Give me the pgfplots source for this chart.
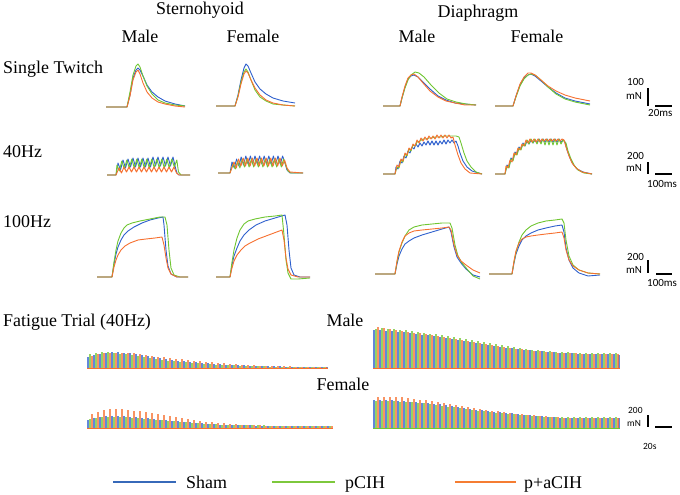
\documentclass[border=0pt]{standalone}
\usepackage{pgfplots}
\pgfplotsset{compat=1.18}
\usepackage{fontspec}
\setmainfont{Liberation Serif}
\newfontfamily\calfont{Carlito}
\definecolor{sham}{RGB}{45,95,205}
\definecolor{pcih}{RGB}{112,198,50}
\definecolor{paci}{RGB}{246,112,48}
\definecolor{lsham}{RGB}{55,105,185}
\definecolor{lpcih}{RGB}{125,200,60}
\definecolor{lpaci}{RGB}{245,125,50}
\begin{document}
\begin{tikzpicture}
\useasboundingbox (0,0) rectangle (680bp,495bp);
\begin{axis}[at={(0bp,0bp)},anchor=south west,width=680bp,height=495bp,scale only axis,
  xmin=0,xmax=680,ymin=0,ymax=495,y dir=reverse,hide axis,clip=false,
  every axis plot/.append style={line width=0.9bp,line join=round}]
% ---------- headings ----------
\node[font=\fontsize{18}{20}\selectfont,anchor=base] at (axis cs:200,15) {Sternohyoid};
\node[font=\fontsize{18}{20}\selectfont,anchor=base] at (axis cs:478,18) {Diaphragm};
\node[font=\fontsize{18}{20}\selectfont,anchor=base] at (axis cs:140,43) {Male};
\node[font=\fontsize{18}{20}\selectfont,anchor=base] at (axis cs:253,43) {Female};
\node[font=\fontsize{18}{20}\selectfont,anchor=base] at (axis cs:417,43) {Male};
\node[font=\fontsize{18}{20}\selectfont,anchor=base] at (axis cs:537,43) {Female};
\node[font=\fontsize{18}{20}\selectfont,anchor=base west,inner sep=0] at (axis cs:3,73) {Single Twitch};
\node[font=\fontsize{18}{20}\selectfont,anchor=base west,inner sep=0] at (axis cs:3,157) {40Hz};
\node[font=\fontsize{18}{20}\selectfont,anchor=base west,inner sep=0] at (axis cs:3,227) {100Hz};
\node[font=\fontsize{18}{20}\selectfont,anchor=base west,inner sep=0] at (axis cs:3,326) {Fatigue Trial (40Hz)};
\node[font=\fontsize{18}{20}\selectfont,anchor=base] at (axis cs:345,326) {Male};
\node[font=\fontsize{18}{20}\selectfont,anchor=base] at (axis cs:343,390) {Female};
% ---------- single twitch : sternohyoid ----------
\addplot[sham] coordinates {(106,107)(127,107)(130,95)(133,78)(136,70)(138,68)(140,70)(143,76)(147,85)(152,92)(158,97)(165,101)(175,104)(185,106)};
\addplot[pcih] coordinates {(106,107)(127,107)(130,92)(133,75)(136,66)(138,64)(140,67)(143,76)(147,86)(152,94)(158,100)(165,103)(175,105)(185,106)};
\addplot[paci] coordinates {(106,107)(127,107)(130,96)(133,80)(136,72)(138,70)(140,74)(143,83)(147,92)(152,98)(158,102)(165,104)(175,106)(185,107)};
\addplot[sham] coordinates {(216,106)(235,106)(238,95)(241,80)(244,68)(246,64)(248,66)(251,73)(255,82)(260,89)(266,94)(273,98)(283,101)(295,103)};
\addplot[pcih] coordinates {(216,106)(235,106)(238,96)(241,82)(244,72)(246,69)(248,72)(251,80)(255,90)(260,97)(266,101)(273,104)(283,105)(295,106)};
\addplot[paci] coordinates {(216,106)(235,106)(238,97)(241,84)(244,74)(246,71)(248,73)(251,80)(255,88)(260,95)(266,100)(273,103)(283,105)(295,106)};
% ---------- single twitch : diaphragm ----------
\addplot[sham] coordinates {(383,106)(400,106)(402,98)(405,87)(408,79)(411,76)(414,75)(418,77)(423,82)(430,89)(438,96)(446,100)(455,103)(465,104)(476,105)};
\addplot[pcih] coordinates {(383,106)(400,106)(402,98)(405,88)(408,80)(411,75)(415,72)(419,73)(424,77)(431,85)(439,93)(447,99)(456,102)(466,104)(476,105)};
\addplot[paci] coordinates {(383,106)(400,106)(402,97)(405,86)(408,78)(411,75)(414,74)(418,77)(423,83)(430,91)(438,97)(446,101)(455,103)(465,105)(476,105)};
\addplot[sham] coordinates {(495,106)(513,106)(516,96)(520,85)(524,78)(528,75)(531,74)(535,76)(541,81)(548,87)(556,93)(565,98)(575,101)(590,104)};
\addplot[pcih] coordinates {(495,106)(513,106)(516,97)(520,86)(524,79)(528,75)(531,74)(535,75)(541,80)(548,87)(556,94)(565,99)(575,102)(590,105)};
\addplot[paci] coordinates {(495,106)(513,106)(516,96)(520,84)(524,77)(528,73)(531,73)(535,75)(541,80)(548,86)(556,91)(565,95)(575,98)(590,101)};
% ---------- 40 Hz : sternohyoid ----------
\addplot[sham] coordinates {(107,175)(116,175)(118,163)(120.5,170)(123,160)(125.5,168)(128,159)(130.5,167)(133,158)(135.5,167)(138,158)(140.5,167)(143,158)(145.5,167)(148,158)(150.5,167)(153,157)(155.5,166)(158,157)(160.5,166)(163,157)(165.5,166)(168,157)(170.5,166)(173,157)(175.5,168)(177,173)(179,175)(190,175)};
\addplot[pcih] coordinates {(107,175)(116,175)(117,165)(119.3,171)(121.8,161)(124.3,169)(126.8,160)(129.3,168)(131.8,159)(134.3,168)(136.8,159)(139.3,168)(141.8,159)(144.3,168)(146.8,159)(149.3,168)(151.8,159)(154.3,168)(156.8,159)(159.3,168)(161.8,159)(164.3,168)(166.8,159)(169.3,168)(171.8,159)(174.3,167)(176.8,160)(178.5,172)(181,175)(190,175)};
\addplot[paci] coordinates {(107,175)(116,175)(119,168)(121.5,173)(124,167)(126.5,172)(129,167)(131.5,172)(134,167)(136.5,172)(139,167)(141.5,172)(144,167)(146.5,172)(149,167)(151.5,172)(154,167)(156.5,172)(159,167)(161.5,172)(164,167)(166.5,172)(169,167)(171.5,172)(174,167)(176.5,173)(179,175)(190,175)};
\addplot[sham] coordinates {(218,173)(230,173)(232,162)(234.3,168)(236.6,159)(238.9,166)(241.2,157)(243.5,165)(245.8,156)(248.1,164)(250.4,156)(252.7,164)(255,156)(257.3,164)(259.6,156)(261.9,164)(264.2,156)(266.5,164)(268.8,156)(271.1,164)(273.4,156)(275.7,164)(278,156)(280.3,164)(282.6,156)(285,163)(287,170)(290,173)(303,173)};
\addplot[pcih] coordinates {(218,173)(230,173)(233,164)(235.3,169)(237.6,161)(239.9,168)(242.2,159)(244.5,167)(246.8,159)(249.1,167)(251.4,159)(253.7,167)(256,159)(258.3,167)(260.6,159)(262.9,167)(265.2,159)(267.5,167)(269.8,159)(272.1,167)(274.4,159)(276.7,167)(279,159)(281.3,167)(283.6,159)(286,166)(288,171)(291,173)(303,173)};
\addplot[paci] coordinates {(218,173)(230,173)(234,162)(236.3,168)(238.6,159)(240.9,166)(243.2,158)(245.5,166)(247.8,158)(250.1,166)(252.4,158)(254.7,166)(257,158)(259.3,166)(261.6,158)(263.9,166)(266.2,158)(268.5,166)(270.8,158)(273.1,166)(275.4,158)(277.7,166)(280,158)(282.3,166)(284.6,160)(287,168)(290,172)(303,173)};
% ---------- 40 Hz : diaphragm ----------
\addplot[sham] coordinates {(383,174)(395,174)(396,167)(398,169)(400,161)(402,163)(404,156)(406,158)(408,151)(410,153)(412,147)(414,149)(416,144)(418,147)(420,143)(422,146)(424,142)(426,145)(428,141)(430,145)(432,141)(434,145)(436,141)(438,145)(440,141)(442,144)(444,140)(446,144)(448,140)(450,143)(452,140)(454,143)(456,141)(458,146)(460,153)(463,161)(467,167)(472,171)(482,174)};
\addplot[pcih] coordinates {(383,174)(395,174)(397,167)(399,168)(401,160)(403,162)(405,154)(407,156)(409,149)(411,151)(413,145)(415,146)(417,142)(420,141)(423,139)(426,139)(429,138)(432,138)(435,137)(438,137)(441,137)(444,136)(447,136)(450,136)(453,136)(456,136)(459,137)(461,143)(464,153)(467,161)(471,167)(476,172)(482,174)};
\addplot[paci] coordinates {(383,174)(395,174)(397,165)(399,167)(401,159)(403,161)(405,153)(407,155)(409,148)(411,150)(413,144)(415,146)(417,140)(419,143)(421,138)(423,141)(425,137)(427,140)(429,136)(431,139)(433,136)(435,139)(437,135)(439,138)(441,135)(443,138)(445,135)(447,138)(449,135)(451,138)(453,137)(455,145)(458,155)(461,163)(465,169)(470,173)(482,174)};
\addplot[sham] coordinates {(495,174)(505,174)(507,165)(509,167)(511,158)(513,160)(515,152)(517,154)(519,147)(521,149)(523,143)(525,146)(527,141)(529,144)(531,140)(533,143)(535,140)(537,143)(539,139)(541,142)(543,139)(545,142)(547,139)(549,142)(551,139)(553,142)(555,139)(557,142)(559,139)(561,142)(563,140)(565,142)(567,150)(570,158)(573,164)(577,169)(583,172)(592,174)};
\addplot[pcih] coordinates {(495,174)(505,174)(507,166)(509,168)(511,159)(513,161)(515,153)(517,155)(519,148)(521,150)(523,144)(525,146)(527,140)(529,144)(531,139)(533,143)(535,139)(537,144)(539,139)(541,144)(543,139)(545,145)(547,139)(549,145)(551,139)(553,145)(555,139)(557,145)(559,139)(561,144)(563,140)(566,143)(568,151)(571,159)(574,165)(578,170)(584,173)(592,174)};
\addplot[paci] coordinates {(495,174)(505,174)(506,166)(508,168)(510,160)(512,162)(514,153)(516,155)(518,148)(520,150)(522,144)(524,146)(526,140)(528,143)(530,139)(532,142)(534,139)(536,142)(538,139)(540,142)(542,139)(544,141)(546,139)(548,141)(550,139)(552,141)(554,139)(556,141)(558,139)(560,141)(562,139)(564,140)(566,147)(569,156)(572,163)(576,168)(582,172)(592,174)};
% ---------- 100 Hz : sternohyoid ----------
\addplot[sham] coordinates {(97,277)(112,277)(114,264)(116,254)(118,247)(121,240)(124,235)(128,231)(134,227)(142,223)(150,220)(158,218)(163,217)(164,225)(166,250)(168,266)(171,274)(177,277)(188,277)};
\addplot[pcih] coordinates {(97,277)(112,277)(114,262)(116,250)(118,241)(121,233)(124,228)(127,225)(132,223)(140,221)(150,219)(160,217)(165,217)(167,225)(169,250)(171,268)(174,275)(180,277)(188,277)};
\addplot[paci] coordinates {(97,277)(112,277)(114,267)(116,260)(118,255)(121,250)(125,246)(130,243)(138,240)(146,239)(155,238)(162,237)(164,245)(166,258)(168,268)(171,274)(177,277)(188,277)};
\addplot[sham] coordinates {(216,277)(230,277)(232,265)(234,256)(237,248)(240,241)(244,235)(249,230)(256,225)(265,221)(275,218)(285,215)(287,225)(289,250)(291,268)(294,275)(300,277)(310,277)};
\addplot[pcih] coordinates {(216,277)(230,277)(232,262)(234,250)(237,238)(240,230)(244,224)(248,221)(255,219)(265,217)(275,216)(282,215)(284,235)(286,260)(288,273)(291,279)(298,279)(310,278)};
\addplot[paci] coordinates {(216,277)(230,277)(232,268)(234,261)(237,255)(241,250)(245,246)(250,243)(258,239)(266,236)(274,233)(282,230)(284,240)(286,258)(288,269)(291,275)(298,277)(310,277)};
% ---------- 100 Hz : diaphragm ----------
\addplot[sham] coordinates {(375,274)(395,274)(397,264)(399,256)(402,249)(405,244)(409,241)(414,238)(422,235)(432,232)(442,229)(449,227)(451,232)(454,247)(457,257)(461,263)(466,269)(473,275)(480,277)};
\addplot[pcih] coordinates {(375,274)(395,274)(397,262)(399,252)(402,243)(405,236)(409,230)(414,227)(422,225)(432,224)(442,223)(450,223)(452,228)(455,245)(458,256)(462,263)(467,269)(473,276)(480,279)};
\addplot[paci] coordinates {(375,274)(395,274)(397,261)(399,251)(402,242)(405,236)(409,233)(414,231)(422,230)(432,229)(442,228)(449,227)(451,230)(454,245)(457,255)(461,261)(466,265)(473,270)(480,273)};
\addplot[sham] coordinates {(489,274)(512,274)(514,263)(516,254)(519,246)(522,240)(526,236)(531,233)(538,230)(546,228)(555,226)(562,225)(564,232)(566,248)(569,260)(573,268)(579,273)(588,276)(600,275)};
\addplot[pcih] coordinates {(489,274)(512,274)(514,262)(516,252)(519,242)(522,235)(526,230)(531,226)(538,223)(546,221)(555,220)(562,219)(564,223)(566,240)(569,256)(573,265)(579,270)(588,273)(600,274)};
\addplot[paci] coordinates {(489,274)(512,274)(514,261)(516,251)(519,243)(522,239)(526,237)(531,236)(538,235)(546,234)(555,233)(562,232)(564,238)(566,250)(569,260)(573,266)(579,270)(588,273)(600,274)};
% ---------- scale bars ----------
\begin{scope}[font=\calfont\fontsize{11}{12}\selectfont]
\node[anchor=base west,inner sep=0] at (axis cs:627,85) {100};
\node[anchor=base west,inner sep=0] at (axis cs:626,99) {mN};
\draw[line width=1.1bp] (axis cs:648,88) -- (axis cs:648,106);
\draw[line width=1.1bp] (axis cs:655,106) -- (axis cs:672,106);
\node[anchor=base west,inner sep=0] at (axis cs:648,116) {20ms};
\node[anchor=base west,inner sep=0] at (axis cs:627,159) {200};
\node[anchor=base west,inner sep=0] at (axis cs:626,171) {mN};
\draw[line width=1.1bp] (axis cs:648,162) -- (axis cs:648,174);
\draw[line width=1.1bp] (axis cs:655,174) -- (axis cs:672,174);
\node[anchor=base west,inner sep=0] at (axis cs:647,187) {100ms};
\node[anchor=base west,inner sep=0] at (axis cs:627,260) {200};
\node[anchor=base west,inner sep=0] at (axis cs:626,273) {mN};
\draw[line width=1.1bp] (axis cs:648,260) -- (axis cs:648,273);
\draw[line width=1.1bp] (axis cs:656,274) -- (axis cs:672,274);
\node[anchor=base west,inner sep=0] at (axis cs:647,286) {100ms};
\end{scope}
\begin{scope}[font=\calfont\fontsize{9.5}{11}\selectfont]
\node[anchor=base west,inner sep=0] at (axis cs:628,413) {200};
\node[anchor=base west,inner sep=0] at (axis cs:627,426) {mN};
\draw[line width=1.1bp] (axis cs:648,415) -- (axis cs:648,427);
\draw[line width=1.1bp] (axis cs:655,427) -- (axis cs:672,427);
\node[anchor=base west,inner sep=0] at (axis cs:643,449) {20s};
\end{scope}
% ---------- legend ----------
\draw[lsham,line width=2.2bp] (axis cs:113,482) -- (axis cs:176,482);
\node[font=\fontsize{18}{20}\selectfont,anchor=base west,inner sep=0] at (axis cs:186,488) {Sham};
\draw[lpcih,line width=2.2bp] (axis cs:272,482) -- (axis cs:335,482);
\node[font=\fontsize{18}{20}\selectfont,anchor=base west,inner sep=0] at (axis cs:345,488) {pCIH};
\draw[lpaci,line width=2.2bp] (axis cs:455,482) -- (axis cs:516,482);
\node[font=\fontsize{18}{20}\selectfont,anchor=base west,inner sep=0] at (axis cs:524,488) {p+aCIH};
\end{axis}
% ================= fatigue : male (baseline y=368 px) =================
\begin{axis}[at={(0bp,127bp)},anchor=south west,width=680bp,height=50bp,scale only axis,
  xmin=0,xmax=680,ymin=0,ymax=50,hide axis,clip=false,
  every axis plot/.append style={ycomb,line width=1.3bp,opacity=0.75}]
\addplot[sham] coordinates {(88,11)(94,13)(100,14)(106,15)(112,16)(118,16)(124,15)(130,14.5)(136,13.5)(142,12.5)(148,11.5)(154,10.5)(160,9.5)(166,8.5)(172,8)(178,7)(184,6.5)(190,6)(196,5.5)(202,5)(208,4.5)(214,4)(220,3.5)(226,3)(232,3)(238,2.5)(244,2.5)(250,2)(256,2)(262,2)(268,1.5)(274,1.5)(280,1.5)(286,1.2)(292,1.2)(298,1)(304,1)(310,1)(316,1)(322,1)(327,1)};
\addplot[pcih] coordinates {(90,14)(96,15)(102,15.5)(108,15.5)(114,15)(120,14)(126,13.5)(132,12.5)(138,11.5)(144,10.5)(150,9.5)(156,8.5)(162,8)(168,7)(174,6.5)(180,6)(186,5.5)(192,5)(198,4.5)(204,4)(210,3.5)(216,3)(222,3)(228,2.5)(234,2.5)(240,2)(246,2)(252,1.8)(258,1.5)(264,1.5)(270,1.3)(276,1.2)(282,1.2)(288,1)(294,1)(300,1)(306,1)(312,1)(318,1)(324,1)};
\addplot[paci] coordinates {(92,12)(98,13.5)(104,14.5)(110,15)(116,15)(122,15)(128,15)(134,14.5)(140,14)(146,13)(152,12)(158,11)(164,10.5)(170,10)(176,9)(182,8.5)(188,8)(194,7)(200,6.5)(206,6)(212,5.5)(218,5)(224,4.5)(230,4)(236,3.5)(242,3)(248,3)(254,2.5)(260,2)(266,2)(272,2)(278,1.8)(284,1.5)(290,1.5)(296,1.3)(302,1.2)(308,1.2)(314,1)(320,1)(326,1)};
\addplot[sham] coordinates {(374,38)(380,38)(386,37)(392,37)(398,36)(404,36)(410,35)(416,34)(422,33)(428,33)(434,32)(440,31)(446,30)(452,29)(458,28)(464,27)(470,26)(476,25)(482,24)(488,23)(494,22)(500,21)(506,20)(512,19.5)(518,19)(524,18)(530,17.5)(536,17)(542,16.5)(548,16)(554,15.5)(560,15)(566,15)(572,14.5)(578,14)(584,14)(590,14)(596,13.5)(602,13.5)(608,13.5)(614,13.5)(619,13)};
\addplot[pcih] coordinates {(376,39)(382,40)(388,39)(394,38.5)(400,38)(406,37.5)(412,37)(418,36)(424,35)(430,34)(436,33.5)(442,33)(448,32)(454,31)(460,30)(466,29)(472,28)(478,27)(484,25.5)(490,24.5)(496,23.5)(502,22.5)(508,21.5)(514,20.5)(520,19.5)(526,19)(532,18)(538,17.5)(544,17)(550,16.5)(556,16)(562,15.5)(568,15.5)(574,15)(580,15)(586,15)(592,15)(598,14.5)(604,14.5)(610,14.5)(616,14.5)};
\addplot[paci] coordinates {(378,41)(384,40)(390,39)(396,38)(402,37)(408,36)(414,35)(420,34.5)(426,34)(432,33)(438,32)(444,31)(450,30)(456,29)(462,28)(468,27)(474,26)(480,25)(486,24)(492,23)(498,22)(504,21)(510,20)(516,19)(522,18.5)(528,18)(534,17)(540,16.5)(546,16)(552,15.5)(558,15)(564,15)(570,14.5)(576,14.5)(582,14)(588,14)(594,14)(600,14)(606,13.5)(612,13.5)(618,13.5)};
\addplot[paci,sharp plot,line width=0.9bp,opacity=1] coordinates {(87,0)(328,0)};
\addplot[paci,sharp plot,line width=0.9bp,opacity=1] coordinates {(373,0)(620,0)};
\end{axis}
% ================= fatigue : female (baseline y=428 px) =================
\begin{axis}[at={(0bp,67bp)},anchor=south west,width=680bp,height=50bp,scale only axis,
  xmin=0,xmax=680,ymin=0,ymax=50,hide axis,clip=false,
  every axis plot/.append style={ycomb,line width=1.3bp,opacity=0.75}]
\addplot[sham] coordinates {(88,8)(94,10)(100,11)(106,12)(112,12)(118,12)(124,11.5)(130,11)(136,10.5)(142,10)(148,9.5)(154,9)(160,8)(166,7.5)(172,7)(178,6.5)(184,6)(190,5.5)(196,5)(202,4.5)(208,4)(214,3.5)(220,3.2)(226,3)(232,2.8)(238,2.6)(244,2.5)(250,2.5)(256,2.4)(262,2.3)(268,2.2)(274,2.2)(280,2)(286,2)(292,2)(298,2)(304,2)(310,2)(316,2)(322,2)(328,2)};
\addplot[pcih] coordinates {(90,9)(96,10)(102,10.5)(108,11)(114,11)(120,11)(126,10.5)(132,10)(138,9.5)(144,9)(150,8.5)(156,8)(162,7.5)(168,7)(174,6.5)(180,6)(186,5.5)(192,5)(198,4.5)(204,4)(210,3.8)(216,3.5)(222,3.2)(228,3)(234,3)(240,2.8)(246,2.6)(252,2.5)(258,2.5)(264,2.5)(270,2.4)(276,2.3)(282,2.3)(288,2.2)(294,2.2)(300,2.2)(306,2.2)(312,2.2)(318,2.2)(324,2.2)(330,2.2)};
\addplot[paci] coordinates {(92,14)(98,16)(104,18)(110,19)(116,19)(122,18.5)(128,18)(134,17)(140,16.5)(146,16)(152,15)(158,14)(164,13)(170,12)(176,11)(182,10)(188,9)(194,8)(200,7)(206,6)(212,5.5)(218,5)(224,4.5)(230,4)(236,3.5)(242,3)(248,3)(254,2.5)(260,2.5)(266,2)(272,2)(278,2)(284,1.8)(290,1.8)(296,1.8)(302,1.8)(308,1.8)(314,1.8)(320,1.8)(326,1.8)(332,1.8)};
\addplot[sham] coordinates {(374,28)(380,28)(386,28)(392,27.5)(398,27)(404,27)(410,26)(416,25.5)(422,25)(428,24.5)(434,24)(440,23.5)(446,22.5)(452,21.5)(458,21)(464,20)(470,19)(476,18)(482,17.5)(488,17)(494,16)(500,15.5)(506,15)(512,14.5)(518,14)(524,13)(530,12.5)(536,12)(542,11.5)(548,11)(554,10.5)(560,10)(566,10)(572,10)(578,9.5)(584,9.5)(590,9.5)(596,9.5)(602,9.5)(608,9.5)(614,9.5)(619,9.5)};
\addplot[pcih] coordinates {(376,27)(382,27)(388,27)(394,26.5)(400,26)(406,26)(412,25.5)(418,25)(424,24.5)(430,24)(436,23)(442,22)(448,21)(454,20.5)(460,20)(466,19)(472,18)(478,17)(484,16.5)(490,16)(496,15)(502,14.5)(508,14)(514,13.5)(520,13)(526,12.5)(532,12)(538,11.5)(544,11)(550,11)(556,10.5)(562,10.5)(568,10.5)(574,10.5)(580,10.5)(586,10.5)(592,10.5)(598,10.5)(604,10.5)(610,10.5)(616,10.5)};
\addplot[paci] coordinates {(378,31)(384,31)(390,31)(396,31)(402,30.5)(408,30)(414,29)(420,28)(426,27.5)(432,27)(438,26)(444,25)(450,24)(456,23)(462,22)(468,21)(474,20)(480,19)(486,18)(492,17)(498,16.5)(504,16)(510,15)(516,14)(522,13.5)(528,13)(534,12.5)(540,12)(546,11.5)(552,11)(558,10.5)(564,10)(570,10)(576,10)(582,10)(588,10)(594,9.5)(600,9.5)(606,9.5)(612,9.5)(618,9.5)};
\addplot[paci,sharp plot,line width=0.9bp,opacity=1] coordinates {(87,0)(333,0)};
\addplot[pcih,sharp plot,line width=0.9bp,opacity=1] coordinates {(373,0)(620,0)};
\end{axis}
\end{tikzpicture}
\end{document}
